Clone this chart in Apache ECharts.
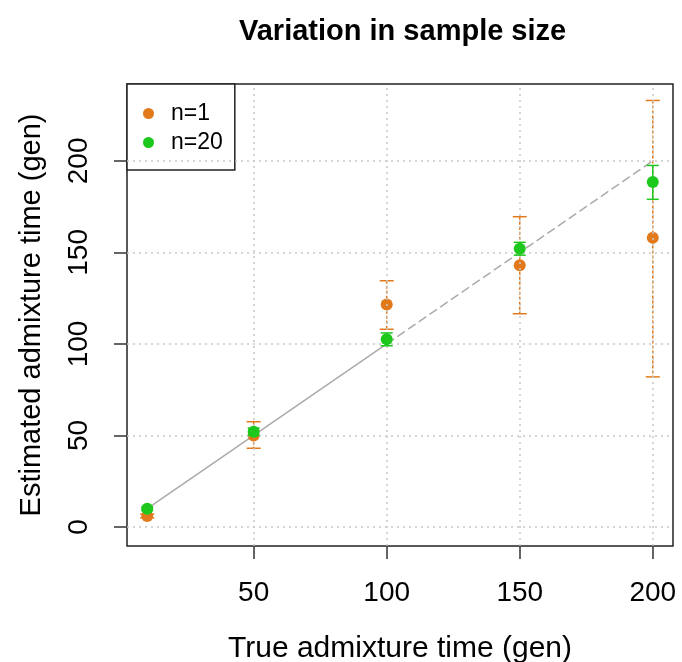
<!DOCTYPE html>
<html>
<head>
<meta charset="utf-8">
<script src="https://cdn.jsdelivr.net/npm/echarts@6/dist/echarts.min.js"></script>
<style>
  html, body { margin: 0; padding: 0; background: #fff; }
  #chart { width: 682px; height: 662px; }
</style>
</head>
<body>
<div id="chart"></div>
<script>
// true admixture times (x)
var times = [10, 50, 100, 150, 200];

// n=1 estimates with bars
var n1Mean = [6, 50, 121.5, 143, 158];
var n1Lower = [5, 43, 108, 116.5, 82];
var n1Upper = [7, 57.5, 134.5, 169.5, 233];

// n=20 estimates with bars
var n20Mean = [10, 52, 102.5, 152, 188.5];
var n20Lower = [9, 50, 99, 148.5, 179];
var n20Upper = [11, 54, 106, 155.5, 197.5];

// y = x reference line, solid part then dashed part
var refSolid = [10, 100];
var refDashed = [100, 200];

var xTicks = [50, 100, 150, 200];
var yTicks = [0, 50, 100, 150, 200];

var orange = '#E27A1C';
var green = '#1CC81C';
var font = 'Liberation Sans, Arial, Helvetica, sans-serif';

function pairs(xs, ys) {
    var out = [];
    for (var i = 0; i < xs.length; i++) {
        out.push([xs[i], ys[i]]);
    }
    return out;
}

function barData(lo, hi) {
    var out = [];
    for (var i = 0; i < times.length; i++) {
        out.push([times[i], lo[i], hi[i]]);
    }
    return out;
}

function errorBars(color, dash, capHalf) {
    return function (params, api) {
        var x = api.value(0);
        var top = api.coord([x, api.value(2)]);
        var bot = api.coord([x, api.value(1)]);
        var st = { stroke: color, lineWidth: 1.5 };
        return {
            type: 'group',
            children: [
                { type: 'line', shape: { x1: top[0], y1: top[1], x2: bot[0], y2: bot[1] },
                  style: { stroke: color, lineWidth: 1.5, lineDash: dash } },
                { type: 'line', shape: { x1: top[0] - capHalf, y1: top[1], x2: top[0] + capHalf, y2: top[1] }, style: st },
                { type: 'line', shape: { x1: bot[0] - capHalf, y1: bot[1], x2: bot[0] + capHalf, y2: bot[1] }, style: st }
            ]
        };
    };
}

var gridLineStyle = { color: '#c8c8c8', type: [2, 4], width: 1.5 };
var gridMarks = [];
xTicks.forEach(function (v) { gridMarks.push({ xAxis: v }); });
yTicks.forEach(function (v) { gridMarks.push({ yAxis: v }); });

var chart = echarts.init(document.getElementById('chart'));
chart.setOption({
    backgroundColor: '#fff',
    animation: false,
    textStyle: { fontFamily: font },
    title: {
        text: 'Variation in sample size',
        left: 234,
        top: 12,
        textStyle: { fontFamily: font, fontSize: 29, fontWeight: 'bold', color: '#000' }
    },
    legend: {
        data: ['n=1', 'n=20'],
        orient: 'vertical',
        left: 127,
        top: 84,
        padding: [18, 12, 16, 16],
        itemWidth: 11,
        itemHeight: 11,
        itemGap: 6,
        icon: 'circle',
        backgroundColor: '#fff',
        borderColor: '#222',
        borderWidth: 1.5,
        textStyle: { fontFamily: font, fontSize: 23, lineHeight: 23, color: '#000', padding: [0, 0, 0, 12] }
    },
    grid: {
        left: 127,
        right: 9,
        top: 84,
        bottom: 116,
        outerBoundsMode: 'none',
        containLabel: false,
        show: true,
        borderColor: '#222',
        borderWidth: 1.5
    },
    xAxis: {
        type: 'value',
        min: 2.4,
        max: 207.6,
        name: 'True admixture time (gen)',
        nameLocation: 'middle',
        nameGap: 88,
        nameTextStyle: { fontFamily: font, fontSize: 30, color: '#000' },
        axisLine: { show: false, onZero: false },
        axisTick: { show: true, customValues: xTicks, length: 13, lineStyle: { color: '#333', width: 1.5 } },
        axisLabel: { customValues: xTicks, margin: 33, fontFamily: font, fontSize: 28, color: '#000' },
        splitLine: { show: false }
    },
    yAxis: {
        type: 'value',
        min: -10.4,
        max: 242,
        name: 'Estimated admixture time (gen)',
        nameLocation: 'middle',
        nameGap: 81,
        nameRotate: 90,
        nameTextStyle: { fontFamily: font, fontSize: 29, color: '#000' },
        axisLine: { show: false, onZero: false },
        axisTick: { show: true, customValues: yTicks, length: 13, lineStyle: { color: '#333', width: 1.5 } },
        axisLabel: { customValues: yTicks, rotate: 90, margin: 34, fontFamily: font, fontSize: 28, color: '#000' },
        splitLine: { show: false }
    },
    series: [
        {
            name: 'grid',
            type: 'line',
            data: [],
            silent: true,
            markLine: {
                silent: true,
                symbol: 'none',
                label: { show: false },
                lineStyle: gridLineStyle,
                data: gridMarks
            }
        },
        {
            name: 'ref solid',
            type: 'line',
            data: pairs(refSolid, refSolid),
            symbol: 'none',
            silent: true,
            lineStyle: { color: '#aaaaaa', width: 1.5 }
        },
        {
            name: 'ref dashed',
            type: 'line',
            data: pairs(refDashed, refDashed),
            symbol: 'none',
            silent: true,
            lineStyle: { color: '#aaaaaa', width: 1.5, type: [9, 4] }
        },
        {
            name: 'n=1 bars',
            type: 'custom',
            renderItem: errorBars(orange, [3, 2], 7),
            encode: { x: 0, y: [1, 2] },
            data: barData(n1Lower, n1Upper),
            z: 3
        },
        {
            name: 'n=1',
            type: 'scatter',
            data: pairs(times, n1Mean),
            symbolSize: 12,
            itemStyle: { color: orange, opacity: 1 },
            z: 4
        },
        {
            name: 'n=20 bars',
            type: 'custom',
            renderItem: errorBars(green, null, 6),
            encode: { x: 0, y: [1, 2] },
            data: barData(n20Lower, n20Upper),
            z: 5
        },
        {
            name: 'n=20',
            type: 'scatter',
            data: pairs(times, n20Mean),
            symbolSize: 12,
            itemStyle: { color: green, opacity: 1 },
            z: 6
        }
    ]
});
</script>
</body>
</html>
